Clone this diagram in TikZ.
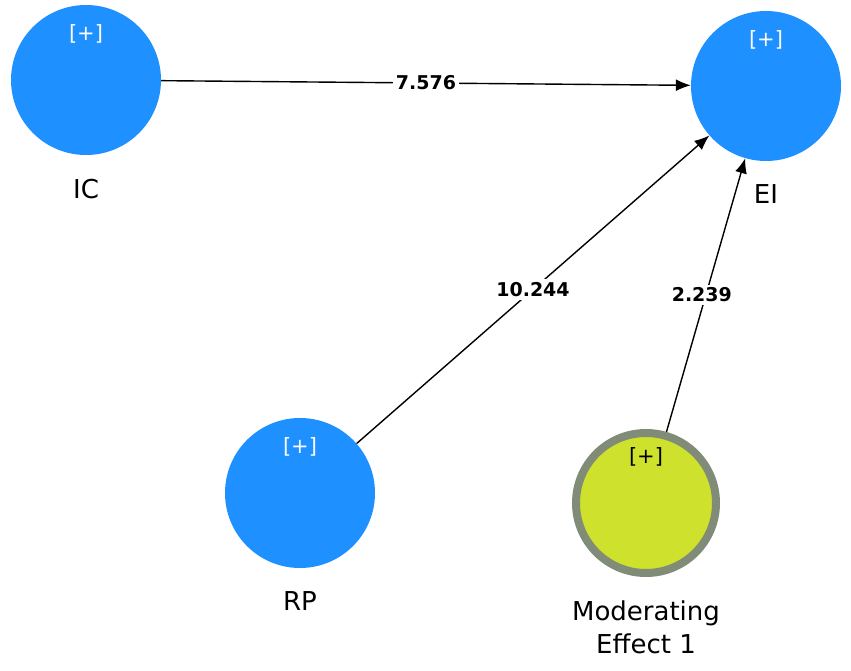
\documentclass[tikz,border=0pt]{standalone}
\usepackage{fontspec}
\setmainfont{DejaVu Sans}
\usetikzlibrary{arrows.meta}
\definecolor{lvblue}{RGB}{30,144,255}
\definecolor{lvgreen}{RGB}{205,225,45}
\definecolor{lvring}{RGB}{128,140,120}

\tikzset{
  latent/.style={circle, fill=lvblue, minimum size=150pt, inner sep=0pt,
    label={[label distance=20pt, font=\fontsize{26}{31}\selectfont]below:#1}},
  moderator/.style={circle, fill=lvgreen, draw=lvring, line width=8pt,
    minimum size=140pt, inner sep=0pt},
  plus/.style={font=\fontsize{21}{24}\selectfont},
  effect/.style={draw, line width=1.4pt, -{Latex[length=15pt,width=12pt]}},
  coef/.style={fill=white, inner sep=3pt, font=\fontsize{19}{21}\selectfont\bfseries}
}

\begin{document}
\begin{tikzpicture}[x=1pt, y=-1pt]
\useasboundingbox (0,0) rectangle (851,671);

% constructs
\node[latent=IC] (IC) at (86,80) {};
\node[latent=EI] (EI) at (766,86) {};
\node[latent=RP] (RP) at (300,493) {};
\node[moderator] (ME) at (646,503) {};
\node[font=\fontsize{26}{33}\selectfont, align=center, below=20pt] (MElabel) at (ME.south) {Moderating\\Effect 1};

% [+] marks
\foreach \n/\c in {IC/white, EI/white, RP/white, ME/black}{
  \node[plus, text=\c] at ([yshift=46pt]\n.center) {[+]};
}

% paths
\draw[effect] (IC) -- node[coef] {7.576} (EI);
\draw[effect] (RP) -- node[coef] {10.244} (EI);
\draw[effect] (ME) -- node[coef, xshift=-4pt] {2.239} (EI);
\end{tikzpicture}
\end{document}
